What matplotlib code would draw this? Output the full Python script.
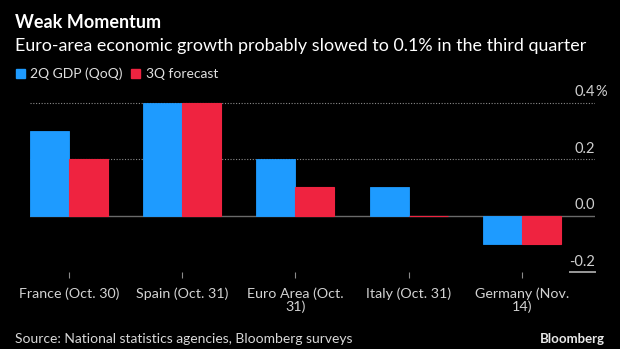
import numpy as np
import matplotlib
matplotlib.use("Agg")
import matplotlib.pyplot as plt

# data
countries = ["France (Oct. 30)", "Spain (Oct. 31)", "Euro Area (Oct.\n31)",
             "Italy (Oct. 31)", "Germany (Nov.\n14)"]
gdp_2q = [0.3, 0.4, 0.2, 0.1, -0.1]
forecast_3q = [0.2, 0.4, 0.1, 0.0, -0.1]
y_ticks = [-0.2, 0.0, 0.2, 0.4]

BLUE = "#1e9bff"
RED = "#ef2340"
BG = "black"

plt.rcParams["font.family"] = ["Lato", "DejaVu Sans"]

fig = plt.figure(figsize=(6.2, 3.49), dpi=100, facecolor=BG)
ax = fig.add_axes([0.048, 0.2206, 0.912, 0.525], facecolor=BG)

x = np.arange(len(countries))
w = 0.344
ax.bar(x - w / 2, gdp_2q, w, color=BLUE, edgecolor=BLUE, linewidth=0.6, zorder=3)
ax.bar(x + w / 2, forecast_3q, w, color=RED, edgecolor=RED, linewidth=0.8, zorder=3)

ax.set_xlim(-w, len(countries) - 1 + 0.645)
ax.set_ylim(-0.2, 0.45)

# grid lines
for t in y_ticks:
    if t == 0:
        ax.axhline(0, color="#6a6a6a", lw=1, zorder=2)
    elif t > 0:
        ax.axhline(t, color="#8a8a8a", lw=0.8, ls=(0, (1, 1.5)), zorder=1)
# short underline at -0.2
ax.plot([0.955, 1.0], [0, 0], transform=ax.transAxes, color="#9a9a9a", lw=1.4,
        clip_on=False)

# y labels on the right, above lines
for t in y_ticks:
    lab = "%.1f" % t
    ax.text(1.0, t + 0.012, lab, transform=ax.get_yaxis_transform(), ha="right",
            va="bottom", color="#cfcfcf", fontsize=10.5)
    if t == 0.4:
        ax.text(1.0, t + 0.012, "%", transform=ax.get_yaxis_transform(), ha="left",
                va="bottom", color="#cfcfcf", fontsize=10.5)

ax.set_yticks([])
ax.set_xticks(x)
ax.set_xticklabels(countries, color="#d2d2d2", fontsize=10.3, linespacing=1.1)
ax.tick_params(axis="x", length=4, color="#8a8a8a", pad=7)
for s in ax.spines.values():
    s.set_visible(False)

fig.text(0.024, 0.92, "Weak Momentum", color="white", fontsize=13,
         fontweight="bold", va="baseline")
fig.text(0.024, 0.855, "Euro-area economic growth probably slowed to 0.1% in the third quarter",
         color="white", fontsize=12.9, va="baseline")

# legend
fig.patches.append(plt.Rectangle((0.026, 0.776), 0.0145, 0.027, color=BLUE,
                                 transform=fig.transFigure, figure=fig))
fig.text(0.049, 0.777, "2Q GDP (QoQ)", color="#e0e0e0", fontsize=10, va="baseline")
fig.patches.append(plt.Rectangle((0.211, 0.776), 0.0145, 0.027, color=RED,
                                 transform=fig.transFigure, figure=fig))
fig.text(0.235, 0.777, "3Q forecast", color="#e0e0e0", fontsize=10, va="baseline")

fig.text(0.024, 0.016, "Source: National statistics agencies, Bloomberg surveys",
         color="#d8d8d8", fontsize=10, va="baseline")
fig.text(0.976, 0.016, "Bloomberg", color="#e8e8e8", fontsize=9.5,
         fontweight="bold", ha="right", va="baseline")

fig.savefig("out.png", dpi=100, facecolor=BG)
